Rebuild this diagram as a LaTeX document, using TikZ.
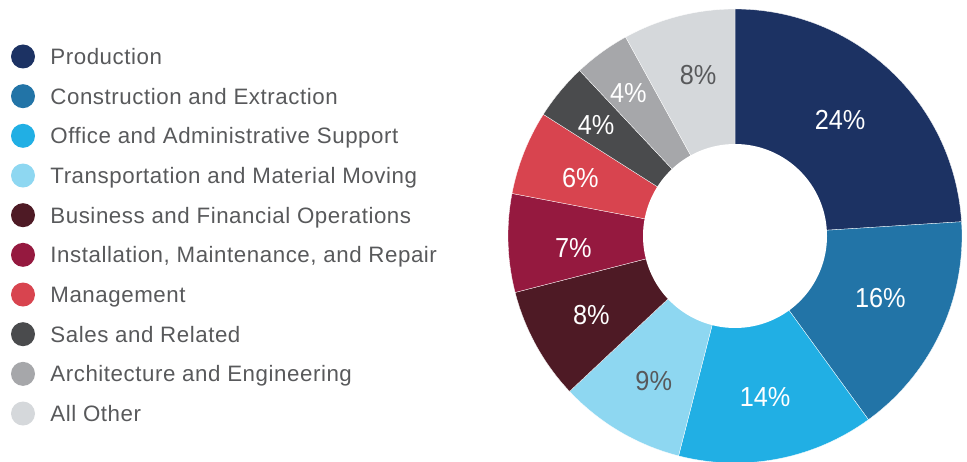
\documentclass[tikz,border=0pt]{standalone}
\usepackage{fontspec}
\setmainfont{Liberation Sans}
\newfontfamily\legendfont[LetterSpace=2.5]{Liberation Sans}
\newfontfamily\pctfont[FakeStretch=0.92]{Liberation Sans}
\usetikzlibrary{positioning}

\definecolor{production}{HTML}{1C3263}
\definecolor{construction}{HTML}{2274A7}
\definecolor{office}{HTML}{21AFE4}
\definecolor{transport}{HTML}{8ED7F1}
\definecolor{business}{HTML}{4E1A25}
\definecolor{installation}{HTML}{95193F}
\definecolor{management}{HTML}{D8444F}
\definecolor{sales}{HTML}{4A4B4D}
\definecolor{architecture}{HTML}{A6A7AA}
\definecolor{allother}{HTML}{D5D8DB}
\definecolor{textgray}{HTML}{58595B}

\tikzstyle{legend dot} = [
    circle,
    minimum size = 24pt,
    inner sep = 0pt
]
\tikzstyle{legend text} = [
    inner sep = 0pt,
    text height = 16pt,
    text depth = 0pt,
    text = textgray,
    font = \legendfont\fontsize{22.3}{22.3}\selectfont
]
\tikzstyle{slice} = [draw = white, line width = 0.3pt]
\tikzstyle{percent} = [
    text = white,
    font = \pctfont\fontsize{27.5}{27.5}\selectfont
]
\tikzstyle{percent dark} = [percent, text = textgray]

\begin{document}
\begin{tikzpicture}[x = 1pt, y = 1pt, node distance = 39.67pt]
    \useasboundingbox (0,0) rectangle (967,-462);

    % legend
    \node (production dot) [legend dot, fill = production] at (23,-56.5) {};
    \node (construction dot) [legend dot, fill = construction, below of = production dot] {};
    \node (office dot) [legend dot, fill = office, below of = construction dot] {};
    \node (transport dot) [legend dot, fill = transport, below of = office dot] {};
    \node (business dot) [legend dot, fill = business, below of = transport dot] {};
    \node (installation dot) [legend dot, fill = installation, below of = business dot] {};
    \node (management dot) [legend dot, fill = management, below of = installation dot] {};
    \node (sales dot) [legend dot, fill = sales, below of = management dot] {};
    \node (architecture dot) [legend dot, fill = architecture, below of = sales dot] {};
    \node (other dot) [legend dot, fill = allother, below of = architecture dot] {};

    \node (production text) [legend text, right = 15pt of production dot] {Production};
    \node (construction text) [legend text, right = 15pt of construction dot] {Construction and Extraction};
    \node (office text) [legend text, right = 15pt of office dot] {Office and Administrative Support};
    \node (transport text) [legend text, right = 15pt of transport dot] {Transportation and Material Moving};
    \node (business text) [legend text, right = 15pt of business dot] {Business and Financial Operations};
    \node (installation text) [legend text, right = 15pt of installation dot] {Installation, Maintenance, and Repair};
    \node (management text) [legend text, right = 15pt of management dot] {Management};
    \node (sales text) [legend text, right = 15pt of sales dot] {Sales and Related};
    \node (architecture text) [legend text, right = 15pt of architecture dot] {Architecture and Engineering};
    \node (other text) [legend text, right = 15pt of other dot] {All Other};

    % donut
    \coordinate (centre) at (735,-236);

    \path[fill = production, slice] (centre) -- ++(90:227)
        arc[start angle = 90, end angle = 3.6, radius = 227] -- cycle;
    \path[fill = construction, slice] (centre) -- ++(3.6:227)
        arc[start angle = 3.6, end angle = -54, radius = 227] -- cycle;
    \path[fill = office, slice] (centre) -- ++(-54:227)
        arc[start angle = -54, end angle = -104.4, radius = 227] -- cycle;
    \path[fill = transport, slice] (centre) -- ++(-104.4:227)
        arc[start angle = -104.4, end angle = -136.8, radius = 227] -- cycle;
    \path[fill = business, slice] (centre) -- ++(-136.8:227)
        arc[start angle = -136.8, end angle = -165.6, radius = 227] -- cycle;
    \path[fill = installation, slice] (centre) -- ++(-165.6:227)
        arc[start angle = -165.6, end angle = -190.8, radius = 227] -- cycle;
    \path[fill = management, slice] (centre) -- ++(-190.8:227)
        arc[start angle = -190.8, end angle = -212.4, radius = 227] -- cycle;
    \path[fill = sales, slice] (centre) -- ++(-212.4:227)
        arc[start angle = -212.4, end angle = -226.8, radius = 227] -- cycle;
    \path[fill = architecture, slice] (centre) -- ++(-226.8:227)
        arc[start angle = -226.8, end angle = -241.2, radius = 227] -- cycle;
    \path[fill = allother, slice] (centre) -- ++(-241.2:227)
        arc[start angle = -241.2, end angle = -270, radius = 227] -- cycle;

    \fill[white] (centre) circle (92);

    \node (production pct) [percent] at ([shift = {(47.8:156.5)}]centre) {24\%};
    \node (construction pct) [percent] at ([shift = {(-23.1:158)}]centre) {16\%};
    \node (office pct) [percent] at ([shift = {(-79.4:164)}]centre) {14\%};
    \node (transport pct) [percent dark] at ([shift = {(-119.3:166)}]centre) {9\%};
    \node (business pct) [percent] at ([shift = {(-151.2:164)}]centre) {8\%};
    \node (installation pct) [percent] at ([shift = {(184.1:162)}]centre) {7\%};
    \node (management pct) [percent] at ([shift = {(159.6:165)}]centre) {6\%};
    \node (sales pct) [percent] at ([shift = {(141.3:178)}]centre) {4\%};
    \node (architecture pct) [percent] at ([shift = {(126.8:178)}]centre) {4\%};
    \node (other pct) [percent dark] at ([shift = {(102.9:165.2)}]centre) {8\%};

\end{tikzpicture}
\end{document}
